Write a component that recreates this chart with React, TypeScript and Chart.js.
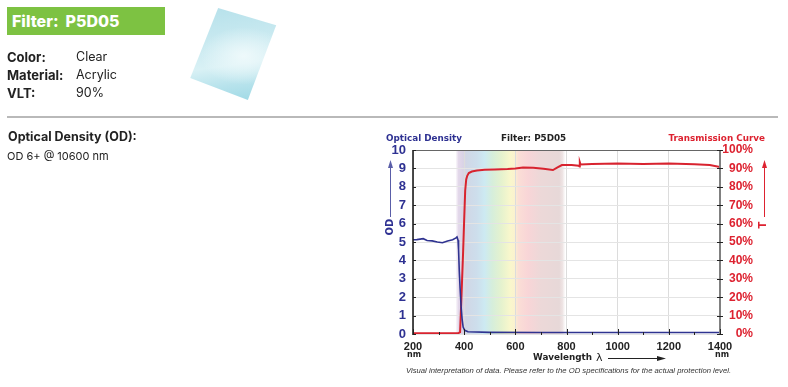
import React, { useEffect, useRef } from "react";
import { Chart, registerables } from "chart.js";

Chart.register(...registerables);

// Optical density curve
const odWavelengths = [200, 215, 240, 255, 275, 295, 315, 335, 355, 368, 372, 376, 378, 381, 384, 388, 392, 396, 402, 415, 500, 700, 1000, 1400];
const odValues = [5.12, 5.13, 5.18, 5.08, 5.06, 5.0, 4.96, 5.06, 5.12, 5.22, 5.27, 5.1, 4.6, 3.4, 2.5, 1.5, 0.8, 0.38, 0.2, 0.12, 0.09, 0.08, 0.08, 0.08];

// Transmission curve
const tWavelengths = [200, 300, 378, 384, 388, 392, 396, 400, 404, 408, 412, 418, 430, 450, 480, 520, 570, 600, 630, 670, 710, 747, 765, 782, 820, 848, 851, 852, 855, 900, 1000, 1100, 1200, 1300, 1360, 1400];
const tValues = [0.4, 0.4, 0.5, 1, 15, 30, 45, 62, 78, 84, 86, 87.5, 88.3, 88.8, 89.2, 89.4, 89.7, 90, 90.5, 90.3, 89.8, 89.1, 90.5, 91.8, 91.8, 91.4, 91.1, 93.4, 92.1, 92.4, 92.6, 92.4, 92.6, 92.3, 91.8, 90.8];

const xTicks = [200, 400, 600, 800, 1000, 1200, 1400];
const xMinorTicks = [300, 500, 700, 900, 1100, 1300];
const odTicks = [0, 1, 2, 3, 4, 5, 6, 7, 8, 9, 10];
const tTicks = [0, 10, 20, 30, 40, 50, 60, 70, 80, 90, 100];

const bandStart = 366;
const bandEnd = 796;
const bandStops: [number, string][] = [
  [366, "rgba(228,214,234,0)"],
  [378, "#e3d8ea"],
  [395, "#dad3e6"],
  [410, "#d0d7e6"],
  [450, "#cddeec"],
  [480, "#cdeaf2"],
  [510, "#d6eedb"],
  [545, "#e5f2ce"],
  [580, "#f9f7cc"],
  [597, "#fbf2cf"],
  [612, "#fbded6"],
  [650, "#f8d5d7"],
  [700, "#ecd8d8"],
  [772, "#e7d8d8"],
  [785, "#efe5e5"],
  [796, "rgba(242,236,236,0)"],
];

const NAVY = "#2e3192";
const BLUE_LINE = "#2f3390";
const RED = "#dd2230";
const RED_LINE = "#d8232f";

const decorations = {
  id: "decorations",
  beforeDraw(chart: any) {
    const { ctx, chartArea: a, scales } = chart;
    const x = scales.x;
    const x0 = x.getPixelForValue(bandStart);
    const x1 = x.getPixelForValue(bandEnd);
    const g = ctx.createLinearGradient(x0, 0, x1, 0);
    bandStops.forEach(([w, c]) => g.addColorStop((w - bandStart) / (bandEnd - bandStart), c));
    ctx.save();
    ctx.fillStyle = g;
    ctx.fillRect(x0, a.top, x1 - x0, a.bottom - a.top);
    ctx.restore();
  },
  afterDraw(chart: any) {
    const { ctx, chartArea: a, scales } = chart;
    const { x, y, y2 } = scales;
    ctx.save();
    // frame
    ctx.strokeStyle = "#666";
    ctx.lineWidth = 1;
    ctx.beginPath();
    ctx.moveTo(a.left, a.top + 0.5);
    ctx.lineTo(a.right, a.top + 0.5);
    ctx.stroke();
    ctx.strokeStyle = "#111";
    ctx.lineWidth = 1.5;
    ctx.beginPath();
    ctx.moveTo(a.left, a.top);
    ctx.lineTo(a.left, a.bottom + 1);
    ctx.stroke();
    ctx.strokeStyle = "#808080";
    ctx.lineWidth = 2;
    ctx.beginPath();
    ctx.moveTo(a.right, a.top);
    ctx.lineTo(a.right, a.bottom + 1);
    ctx.stroke();
    // ticks
    ctx.strokeStyle = "#222";
    ctx.lineWidth = 1;
    odTicks.forEach((v) => {
      const p = Math.round(y.getPixelForValue(v)) + 0.5;
      ctx.beginPath();
      ctx.moveTo(a.left, p);
      ctx.lineTo(a.left + 3, p);
      ctx.stroke();
    });
    tTicks.forEach((v) => {
      const p = Math.round(y2.getPixelForValue(v)) + 0.5;
      ctx.beginPath();
      ctx.moveTo(a.right - 3, p);
      ctx.lineTo(a.right + 3, p);
      ctx.stroke();
    });
    xTicks.forEach((v) => {
      const p = Math.round(x.getPixelForValue(v)) + 0.5;
      ctx.beginPath();
      ctx.moveTo(p, a.bottom + 1);
      ctx.lineTo(p, a.bottom - 5);
      ctx.stroke();
    });
    xMinorTicks.forEach((v) => {
      const p = Math.round(x.getPixelForValue(v)) + 0.5;
      ctx.beginPath();
      ctx.moveTo(p, a.bottom + 1);
      ctx.lineTo(p, a.bottom - 2);
      ctx.stroke();
    });

    // titles
    ctx.textBaseline = "middle";
    ctx.font = 'bold 8.8px "DejaVu Sans"';
    ctx.textAlign = "left";
    ctx.fillStyle = NAVY;
    ctx.fillText("Optical Density", 386, 138.5);
    ctx.fillStyle = "#222";
    ctx.fillText("Filter: P5D05", 501, 138.5);
    ctx.fillStyle = RED;
    ctx.textAlign = "right";
    ctx.fillText("Transmission Curve", 765, 138.5);

    // nm labels and axis title
    ctx.fillStyle = "#222";
    ctx.textAlign = "center";
    ctx.font = 'bold 8px "DejaVu Sans"';
    ctx.fillText("nm", 414, 355);
    ctx.fillText("nm", 722, 355);
    ctx.textAlign = "left";
    ctx.font = 'bold 8.8px "DejaVu Sans"';
    ctx.fillText("Wavelength", 533, 358);
    ctx.font = '11px "DejaVu Sans"';
    ctx.fillText("λ", 596, 358);
    ctx.strokeStyle = "#222";
    ctx.lineWidth = 1;
    ctx.beginPath();
    ctx.moveTo(608, 358.5);
    ctx.lineTo(660, 358.5);
    ctx.stroke();
    ctx.beginPath();
    ctx.moveTo(666, 358.5);
    ctx.lineTo(657, 356);
    ctx.lineTo(657, 361);
    ctx.closePath();
    ctx.fill();

    // footnote
    ctx.font = 'italic 7.7px "Liberation Sans"';
    ctx.fillStyle = "#333";
    ctx.fillText("Visual interpretation of data. Please refer to the OD specifications for the actual protection level.", 406, 371);

    // side arrows
    const arrow = (ax: number, color: string) => {
      ctx.strokeStyle = color;
      ctx.fillStyle = color;
      ctx.lineWidth = 1;
      ctx.beginPath();
      ctx.moveTo(ax + 0.5, 166);
      ctx.lineTo(ax + 0.5, 217);
      ctx.stroke();
      ctx.beginPath();
      ctx.moveTo(ax + 0.5, 160);
      ctx.lineTo(ax - 2, 168);
      ctx.lineTo(ax + 3, 168);
      ctx.closePath();
      ctx.fill();
    };
    arrow(390, "#5a5ea8");
    arrow(764, RED);
    ctx.font = 'bold 10px "DejaVu Sans"';
    ctx.textAlign = "center";
    const vText = (s: string, tx: number, ty: number, color: string) => {
      ctx.save();
      ctx.translate(tx, ty);
      ctx.rotate(-Math.PI / 2);
      ctx.fillStyle = color;
      ctx.fillText(s, 0, 0);
      ctx.restore();
    };
    vText("OD", 390, 227, NAVY);
    vText("T", 763, 225, RED);
    ctx.restore();
  },
};

const pos: React.CSSProperties = { position: "absolute", whiteSpace: "nowrap", color: "#222" };
const FONT = 'Inter, "Liberation Sans", sans-serif';

export default function App() {
  const ref = useRef<HTMLCanvasElement>(null);

  useEffect(() => {
    document.body.style.margin = "0";
    const chart = new Chart(ref.current!, {
      type: "scatter",
      data: {
        datasets: [
          {
            label: "Optical Density",
            data: odWavelengths.map((w, i) => ({ x: w, y: odValues[i] })),
            yAxisID: "y",
            showLine: true,
            borderColor: BLUE_LINE,
            borderWidth: 1.6,
            pointRadius: 0,
            tension: 0,
          },
          {
            label: "Transmission Curve",
            data: tWavelengths.map((w, i) => ({ x: w, y: tValues[i] })),
            yAxisID: "y2",
            showLine: true,
            borderColor: RED_LINE,
            borderWidth: 2,
            pointRadius: 0,
            tension: 0,
          },
        ],
      },
      options: {
        animation: false,
        responsive: false,
        layout: { padding: { left: 353, top: 150, right: 35, bottom: 0 } },
        plugins: { legend: { display: false }, tooltip: { enabled: false } },
        scales: {
          x: {
            type: "linear",
            min: 200,
            max: 1400,
            afterFit: (s: any) => { s.height = 53; },
            afterBuildTicks: (s: any) => { s.ticks = xTicks.map((value) => ({ value })); },
            grid: { color: "#dcdcdc", drawTicks: false },
            border: { display: false },
            ticks: {
              autoSkip: false,
              maxRotation: 0,
              padding: 6,
              color: "#222",
              font: { family: "Liberation Sans", weight: "bold", size: 11 },
              callback: (v: any) => String(v),
            },
          },
          y: {
            position: "left",
            min: 0,
            max: 10,
            afterFit: (s: any) => { s.width = 60; },
            afterBuildTicks: (s: any) => { s.ticks = odTicks.map((value) => ({ value })); },
            grid: { color: "#e4e4e4", drawTicks: false },
            border: { display: false },
            ticks: {
              autoSkip: false,
              padding: 7,
              color: NAVY,
              font: { family: "Liberation Sans", weight: "bold", size: 13 },
            },
          },
          y2: {
            position: "right",
            min: 0,
            max: 100,
            afterFit: (s: any) => { s.width = 33; },
            afterBuildTicks: (s: any) => { s.ticks = tTicks.map((value) => ({ value })); },
            grid: { drawOnChartArea: false, drawTicks: false },
            border: { display: false },
            ticks: {
              autoSkip: false,
              crossAlign: "far",
              padding: 0,
              color: RED,
              font: { family: "Liberation Sans", weight: "bold", size: 12 },
              callback: (v: any) => `${v}%`,
            },
          },
        },
      },
      plugins: [decorations],
    } as any);
    return () => chart.destroy();
  }, []);

  return (
    <div style={{ position: "relative", width: 788, height: 387, background: "#fff", overflow: "hidden", fontFamily: FONT }}>
      <canvas ref={ref} width={788} height={387} style={{ position: "absolute", left: 0, top: 0, display: "block" }} />
      <div style={{ position: "absolute", left: 7, top: 7, width: 158, height: 28, background: "#7dc242" }} />
      <div style={{ ...pos, left: 12, top: 12, color: "#fff", fontWeight: 800, fontSize: 16, lineHeight: "18px" }}>
        Filter:&nbsp; P5D05
      </div>
      <div
        style={{
          position: "absolute",
          left: 188,
          top: 6,
          width: 90,
          height: 96,
          clipPath: "polygon(33.5% 2%, 98% 20%, 66.5% 98%, 2.5% 75%)",
          filter: "blur(0.5px)",
          background: "radial-gradient(ellipse 48% 30% at 62% 52%, #eef9fb 0%, rgba(238,249,251,0) 100%), linear-gradient(172deg, #b4e0ea 0%, #c8e9f0 35%, #d9f1f5 60%, #b8e3ec 78%, #99d7e4 100%)",
        }}
      />
      <div style={{ ...pos, left: 7, top: 48, fontWeight: 700, fontSize: 13, lineHeight: "18px" }}>Color:</div>
      <div style={{ ...pos, left: 76, top: 48, fontSize: 12.5, lineHeight: "18px" }}>Clear</div>
      <div style={{ ...pos, left: 7, top: 66, fontWeight: 700, fontSize: 13, lineHeight: "18px" }}>Material:</div>
      <div style={{ ...pos, left: 76, top: 66, fontSize: 12.5, lineHeight: "18px" }}>Acrylic</div>
      <div style={{ ...pos, left: 7, top: 84, fontWeight: 700, fontSize: 13, lineHeight: "18px" }}>VLT:</div>
      <div style={{ ...pos, left: 76, top: 84, fontSize: 12.5, lineHeight: "18px" }}>90%</div>
      <div style={{ position: "absolute", left: 7, top: 116, width: 771, height: 2, background: "#b9b9b9" }} />
      <div style={{ ...pos, left: 8, top: 128, fontWeight: 700, fontSize: 12.5, lineHeight: "18px" }}>Optical Density (OD):</div>
      <div style={{ ...pos, left: 7, top: 147, fontSize: 11, lineHeight: "18px" }}>OD 6+ @ 10600 nm</div>
    </div>
  );
}
